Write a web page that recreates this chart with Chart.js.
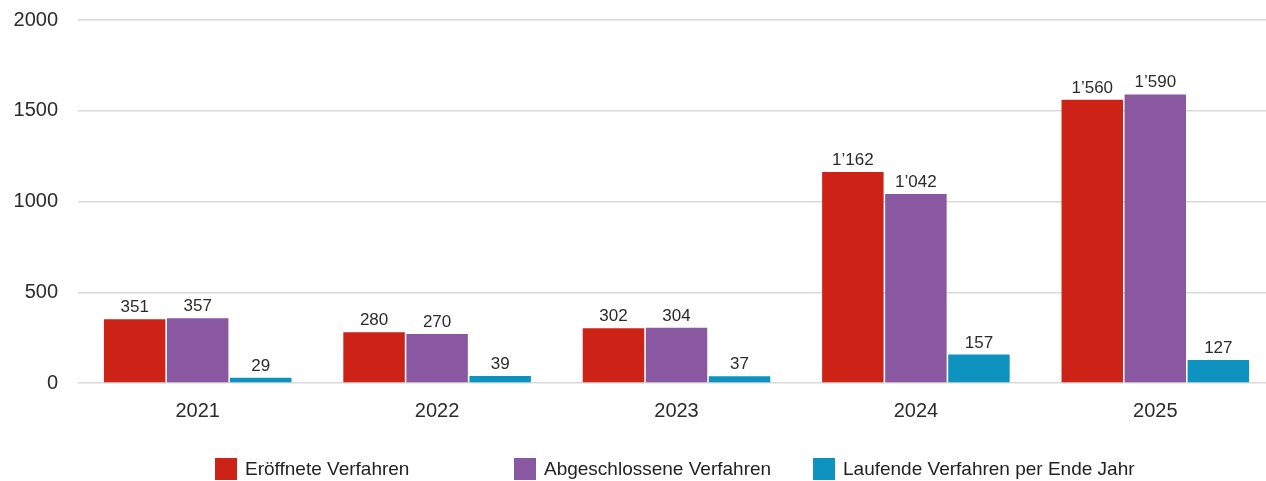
<!DOCTYPE html>
<html lang="de">
<head>
<meta charset="utf-8">
<script src="https://cdn.jsdelivr.net/npm/chart.js@4"></script>
<style>
    html, body { margin: 0; padding: 0; background: #fff; overflow: hidden; }
    #wrap { width: 1275px; height: 481px; position: relative; }
</style>
</head>
<body>
<div id="wrap"><canvas id="chartVerfahren"></canvas></div>
<script>
const jahre = ['2021', '2022', '2023', '2024', '2025'];
const eroeffnet = [351, 280, 302, 1162, 1560];
const abgeschlossen = [357, 270, 304, 1042, 1590];
const laufend = [29, 39, 37, 157, 127];
const yTicks = [0, 500, 1000, 1500, 2000];

const FONT = "'Liberation Sans', Arial, sans-serif";

// Zahlen im Schweizer Format: 1'162
const formatZahl = (v) => String(v).replace(/\B(?=(\d{3})+(?!\d))/g, '\u2019');

// Werte über den Balken
const wertePlugin = {
    id: 'werte',
    afterDatasetsDraw(chart) {
        const ctx = chart.ctx;
        ctx.save();
        ctx.font = `17px ${FONT}`;
        ctx.fillStyle = '#2b2b2b';
        ctx.textAlign = 'center';
        ctx.textBaseline = 'alphabetic';
        chart.data.datasets.forEach((ds, i) => {
            chart.getDatasetMeta(i).data.forEach((bar, j) => {
                ctx.fillText(formatZahl(ds.data[j]), bar.x, bar.y - 7);
            });
        });
        ctx.restore();
    }
};

// Legende mit festen Abständen unten
const legendePlugin = {
    id: 'legende',
    afterDraw(chart) {
        const ctx = chart.ctx;
        ctx.save();
        ctx.font = `19px ${FONT}`;
        ctx.textBaseline = 'middle';
        ctx.textAlign = 'left';
        chart.data.datasets.forEach((ds, i) => {
            const x = 215 + i * 299;
            const y = 458;
            ctx.fillStyle = ds.backgroundColor;
            ctx.fillRect(x, y, 22, 22);
            ctx.fillStyle = '#222';
            ctx.fillText(ds.label, x + 30, y + 12);
        });
        ctx.restore();
    }
};

const canvas = document.getElementById('chartVerfahren');
const context = canvas.getContext('2d');

const chartVerfahren = new Chart(context, {
    type: 'bar',
    data: {
        labels: jahre,
        datasets: [
            {
                label: 'Eröffnete Verfahren',
                data: eroeffnet,
                backgroundColor: '#cc2316'
            },
            {
                label: 'Abgeschlossene Verfahren',
                data: abgeschlossen,
                backgroundColor: '#8a58a0'
            },
            {
                label: 'Laufende Verfahren per Ende Jahr',
                data: laufend,
                backgroundColor: '#0e93c0'
            }
        ]
    },
    options: {
        responsive: true,
        maintainAspectRatio: false,
        animation: false,
        datasets: {
            bar: {
                categoryPercentage: 0.79,
                barPercentage: 0.975
            }
        },
        layout: {
            padding: { top: 20, left: 10, right: 0, bottom: 42 }
        },
        scales: {
            x: {
                grid: { display: false, drawTicks: false },
                border: { display: false },
                ticks: {
                    padding: 16,
                    color: '#2b2b2b',
                    font: { family: FONT, size: 20 }
                }
            },
            y: {
                min: 0,
                max: 2000,
                afterBuildTicks: (axis) => {
                    axis.ticks = yTicks.map(v => ({ value: v }));
                },
                afterFit: (axis) => {
                    axis.width = 68;
                    axis.paddingTop = 0;
                    axis.paddingBottom = 0;
                },
                grid: {
                    color: '#d9d9d9',
                    lineWidth: 1.5,
                    drawTicks: false
                },
                border: { display: false },
                ticks: {
                    padding: 20,
                    color: '#2b2b2b',
                    font: { family: FONT, size: 20 },
                    callback: (v) => String(v)
                }
            }
        },
        plugins: {
            legend: { display: false },
            tooltip: { enabled: false }
        }
    },
    plugins: [wertePlugin, legendePlugin]
});
</script>
</body>
</html>
